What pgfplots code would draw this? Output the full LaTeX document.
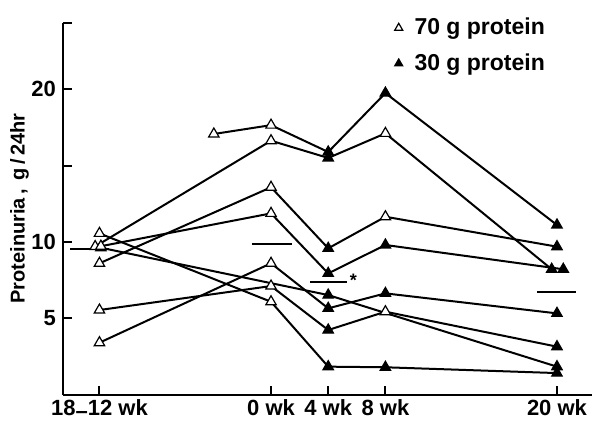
\documentclass[border=0pt]{standalone}
\usepackage{fontspec}
\setmainfont{Liberation Sans}
\usepackage{pgfplots}
\pgfplotsset{compat=1.18}
\begin{document}
\begin{tikzpicture}
\begin{axis}[
  scale only axis,
  width=264.5pt, height=185.95pt,
  xmin=-14.55, xmax=22.45,
  ymin=0, ymax=24.36,
  axis lines=left,
  axis line style={-, line width=1pt},
  tick align=inside,
  major tick length=4.5pt,
  every tick/.style={black, line width=1pt},
  xtick={-12,0,4,8,20},
  xticklabels={18\raisebox{-0.25ex}{–}12 wk, 0 wk, 4 wk, 8 wk, 20 wk},
  ytick={5,10,15,20,24.36},
  yticklabels={5,10,,20,},
  tick label style={font=\bfseries\fontsize{11}{13}\selectfont},
  xticklabel style={yshift=1.2pt},
  /pgf/number format/assume math mode=true,
  ylabel={Proteinuria\,,\, g\,/\,24hr},
  ylabel style={font=\bfseries\fontsize{10}{12}\selectfont, at={(axis description cs:-0.082,0.5)}, anchor=center},
  clip=false,
  legend style={draw=none, fill=none, at={(axis description cs:0.615,1.035)}, anchor=north west,
    font=\bfseries\fontsize{11.5}{13}\selectfont, row sep=4pt, cells={anchor=west}},
  legend image code/.code={\draw[#1, mark size=2.3pt] plot coordinates {(0.1cm,0cm)}; \path (0.3cm,0cm);},
  pline/.style={black, line width=1pt, no marks, forget plot},
]
% patient trajectories
\addplot[pline] coordinates {(-4,17.07) (0,17.65) (4,15.89) (8,19.75) (20,11.11)};
\addplot[pline] coordinates {(-12.3,9.70) (0,16.63) (4,15.50) (8,17.11) (19.63,8.21)};
\addplot[pline] coordinates {(-12,8.60) (0,13.58) (4,9.58) (8,11.65) (20,9.69)};
\addplot[pline] coordinates {(-11.9,9.72) (0,11.87) (4,7.94) (8,9.80) (20.44,8.21)};
\addplot[pline] coordinates {(-12,3.40) (0,8.60) (4,5.65) (8,6.63) (20,5.32)};
\addplot[pline] coordinates {(-12,5.54) (0,7.11) (4,4.23) (8,5.43) (20,3.14)};
\addplot[pline] coordinates {(-12,10.56) (0,6.08) (4,1.83) (8,1.79) (20,1.41)};
\addplot[pline] coordinates {(-11.9,9.62) (4,6.52) (20,1.83)};
% mean bars
\addplot[pline] coordinates {(-14.05,9.55) (-11.3,9.55)};
\addplot[pline] coordinates {(-1.35,9.86) (1.45,9.86)};
\addplot[pline] coordinates {(2.73,7.35) (5.29,7.35)};
\addplot[pline] coordinates {(18.6,6.74) (21.3,6.74)};
% markers
\addplot[only marks, mark=triangle*, mark size=3pt, mark options={fill=white, draw=black, line width=0.6pt}]
  coordinates {(-4,17.07) (0,17.65) (-12.3,9.70) (0,16.63) (8,17.11) (-12,8.60) (0,13.58) (8,11.65)
  (-11.9,9.62) (-11.9,9.72) (0,11.87) (-12,3.40) (0,8.60) (-12,5.54) (0,7.11) (8,5.43) (-12,10.56) (0,6.08)};
\addlegendentry{70 g protein}
\addplot[only marks, mark=triangle*, mark size=3pt, mark options={fill=black, draw=black, line width=0.6pt}]
  coordinates {(4,15.89) (8,19.75) (20,11.11) (4,15.50) (19.63,8.21) (4,9.58) (20,9.69) (4,7.94) (8,9.80)
  (20.44,8.21) (4,5.65) (8,6.63) (20,5.32) (4,4.23) (20,3.14) (4,1.83) (8,1.79) (20,1.41) (4,6.52) (20,1.83)};
\addlegendentry{30 g protein}
\node[font=\bfseries\fontsize{9}{10}\selectfont, yshift=-2pt] at (axis cs:5.76,7.77) {*};
\end{axis}
\pgfresetboundingbox
\useasboundingbox (-31.5pt,-13.7pt) rectangle (264.5pt,197.3pt);
\end{tikzpicture}
\end{document}
